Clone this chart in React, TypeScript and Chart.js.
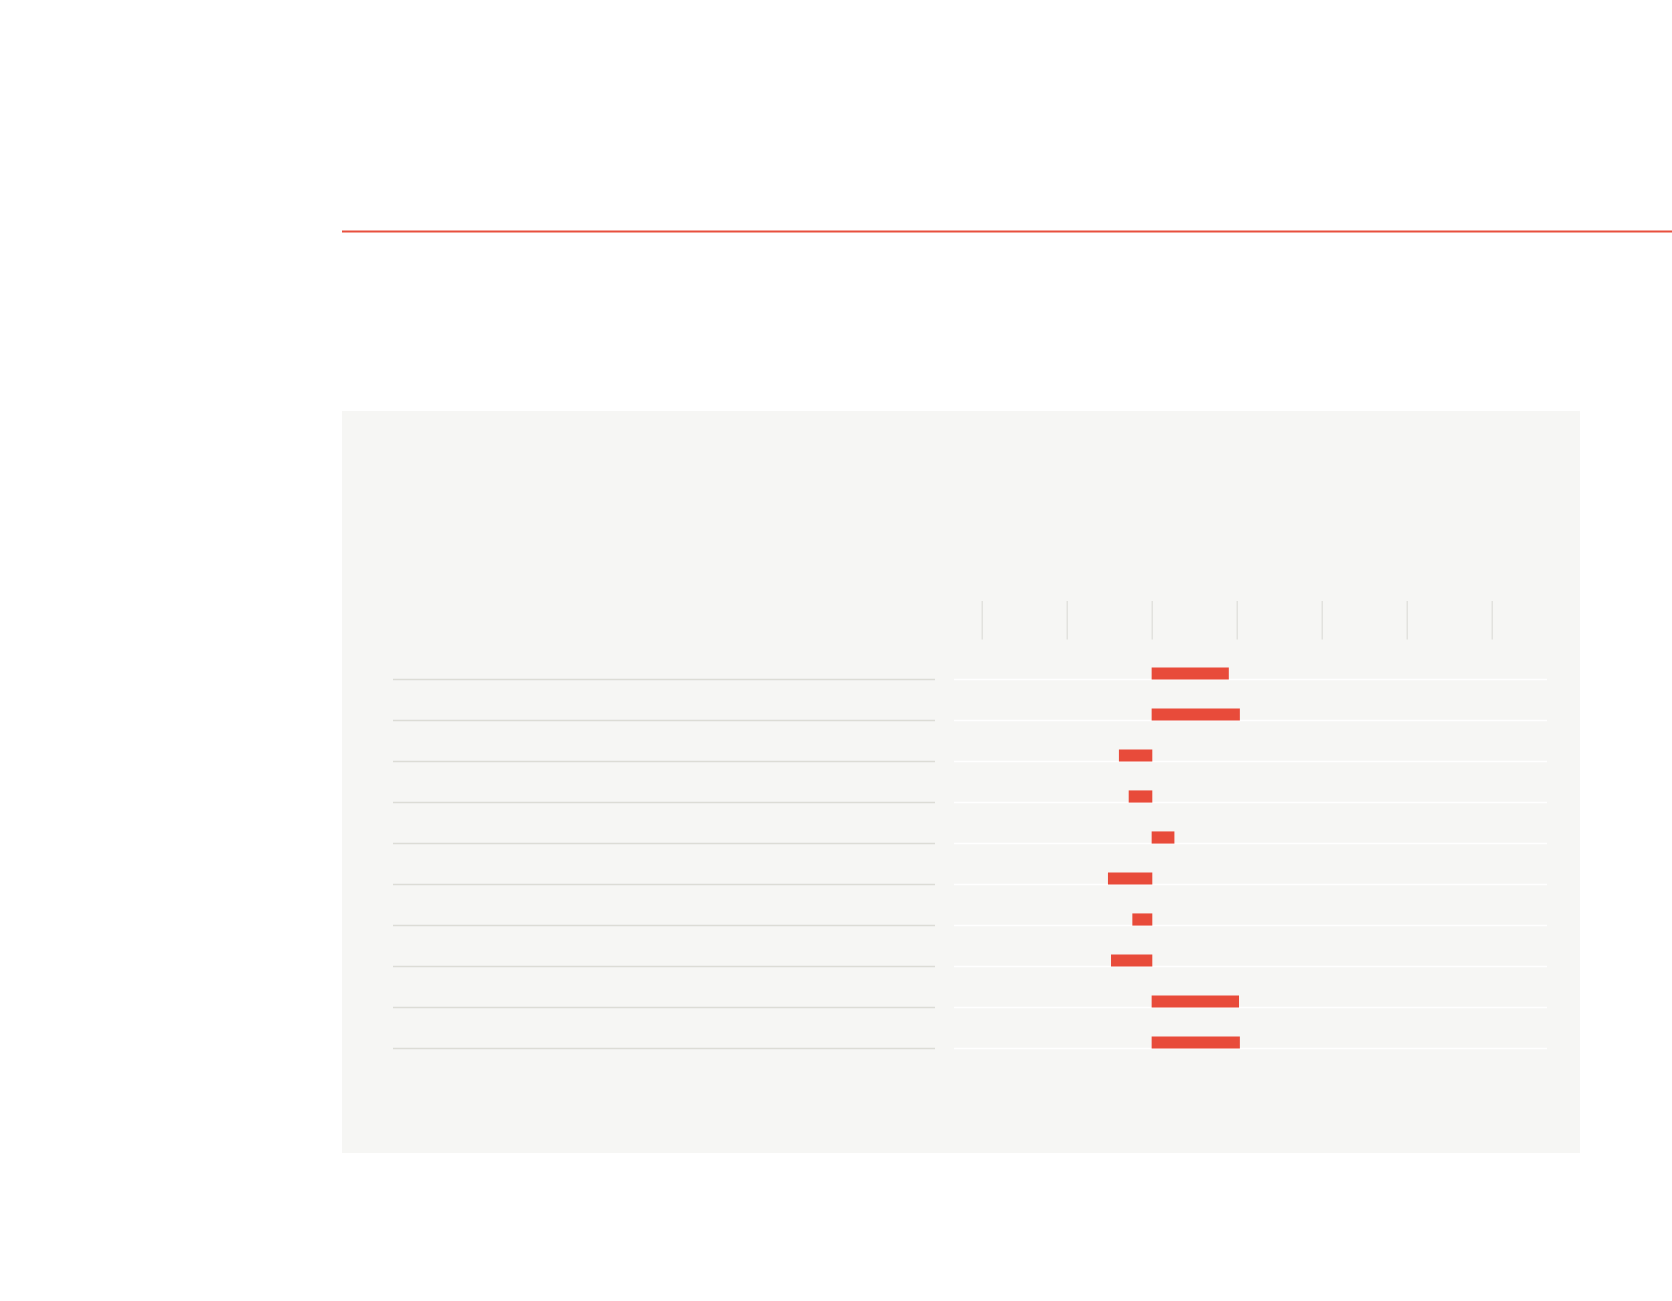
import React, { useEffect, useRef } from "react";
import { Chart, registerables } from "chart.js";

Chart.register(...registerables);

const categories = ["1", "2", "3", "4", "5", "6", "7", "8", "9", "10"];
const values = [0.9, 1.03, -0.385, -0.27, 0.26, -0.514, -0.227, -0.478, 1.02, 1.03];
const tickValues = [-2, -1, 0, 1, 2, 3, 4];

const BAR = "#e84b3a";
const PANEL = "#f6f6f4";

const decor = {
  id: "decor",
  beforeDraw(chart: any) {
    const ctx = chart.ctx;
    ctx.save();
    // red rule
    ctx.fillStyle = "#e8503f";
    ctx.fillRect(342, 230.5, 1330, 2);
    // panel
    ctx.fillStyle = PANEL;
    ctx.fillRect(342, 411, 1238, 742);
    const x = chart.scales.x;
    const y = chart.scales.y;
    // ticks
    ctx.strokeStyle = "#e2e2de";
    ctx.lineWidth = 1.5;
    tickValues.forEach((v) => {
      const px = Math.round(x.getPixelForValue(v)) + 0.25;
      ctx.beginPath();
      ctx.moveTo(px, 601);
      ctx.lineTo(px, 639.5);
      ctx.stroke();
    });
    // row lines
    categories.forEach((c, i) => {
      const py = y.getPixelForValue(i) + 6;
      ctx.strokeStyle = "#dcdcd6";
      ctx.lineWidth = 1.5;
      ctx.beginPath();
      ctx.moveTo(393, py);
      ctx.lineTo(935, py);
      ctx.stroke();
      ctx.strokeStyle = "#ffffff";
      ctx.beginPath();
      ctx.moveTo(chart.chartArea.left, py);
      ctx.lineTo(chart.chartArea.right, py);
      ctx.stroke();
    });
    ctx.restore();
  },
};

export default function App() {
  const ref = useRef<HTMLCanvasElement | null>(null);
  useEffect(() => {
    if (!ref.current) return;
    const chart = new Chart(ref.current, {
      type: "bar",
      data: {
        labels: categories,
        datasets: [
          {
            data: values,
            backgroundColor: BAR,
            borderWidth: 0,
            barThickness: 11.5,
          },
        ],
      },
      options: {
        animation: false,
        responsive: false,
        devicePixelRatio: 1,
        indexAxis: "y",
        layout: { padding: { left: 954, right: 125, top: 653, bottom: 238 } },
        plugins: { legend: { display: false }, tooltip: { enabled: false } },
        scales: {
          x: { display: false, min: -2.329, max: 4.647 },
          y: { display: false, offset: true },
        },
      },
      plugins: [decor],
    });
    return () => chart.destroy();
  }, []);
  return (
    <div style={{ position: "absolute", left: 0, top: 0, width: 1672, height: 1301, background: "#fff" }}>
      <canvas ref={ref} width={1672} height={1301} style={{ display: "block", width: 1672, height: 1301 }} />
    </div>
  );
}
